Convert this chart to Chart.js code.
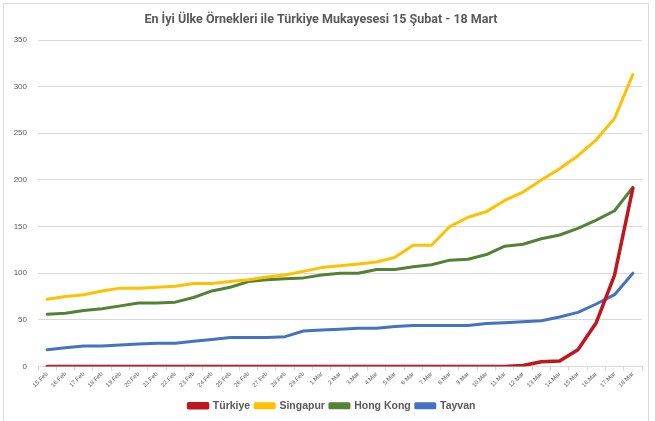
<!DOCTYPE html>
<html><head><meta charset="utf-8">
<script src="https://cdn.jsdelivr.net/npm/chart.js@4/dist/chart.umd.min.js"></script>
<style>
html,body{margin:0;padding:0;background:#fff;}
#wrap{position:relative;width:655px;height:421px;}
#frame{position:absolute;left:3px;top:3px;width:646px;height:440px;border:1px solid #d9d9d9;box-sizing:border-box;pointer-events:none;}
canvas{position:absolute;left:0;top:0;}
</style></head>
<body><div id="wrap"><canvas id="c" width="655" height="421"></canvas><div id="frame"></div></div>
<script>
const categories = ["15.Feb","16.Feb","17.Feb","18.Feb","19.Feb","20.Feb","21.Feb","22.Feb","23.Feb","24.Feb","25.Feb","26.Feb","27.Feb","28.Feb","29.Feb","1.Mar","2.Mar","3.Mar","4.Mar","5.Mar","6.Mar","7.Mar","8.Mar","9.Mar","10.Mar","11.Mar","12.Mar","13.Mar","14.Mar","15.Mar","16.Mar","17.Mar","18.Mar"];
const turkiye  = [0,0,0,0,0,0,0,0,0,0,0,0,0,0,0,0,0,0,0,0,0,0,0,0,0,0,1,5,6,18,47,98,191];
const singapur = [72,75,77,81,84,84,85,86,89,89,91,93,96,98,102,106,108,110,112,117,130,130,150,160,166,178,187,200,212,226,243,266,313];
const hongkong = [56,57,60,62,65,68,68,69,74,81,85,91,93,94,95,98,100,100,104,104,107,109,114,115,120,129,131,137,141,148,157,167,192];
const tayvan   = [18,20,22,22,23,24,25,25,27,29,31,31,31,32,38,39,40,41,41,43,44,44,44,44,46,47,48,49,53,58,67,77,100];
const yTicks = [0,50,100,150,200,250,300,350];
const seriesNames = ["Türkiye","Singapur","Hong Kong","Tayvan"];
const seriesColors = ["#C0161E","#FFC000","#548235","#4472C4"];
const seriesData = [turkiye, singapur, hongkong, tayvan];

const txt = "#595959";
const legendShift = {
  id: 'legendShift',
  afterLayout(chart) {
    const lg = chart.legend;
    if (lg) { lg.left += 11; lg.right += 11; }
  }
};
new Chart(document.getElementById('c'), {
  type: 'line',
  data: {
    labels: categories,
    datasets: seriesData.map((d,i)=>({
      label: seriesNames[i], data: d,
      borderColor: seriesColors[i], backgroundColor: seriesColors[i],
      borderWidth: i === 0 ? 3.5 : 3, pointRadius: 0, tension: 0, borderCapStyle:'round', borderJoinStyle:'round'
    }))
  },
  plugins: [legendShift],
  options: {
    responsive: false, animation: false,
    layout: {padding: {left: 0, right: 13, top: 0, bottom: 0}},
    plugins: {
      title: {display: true, text: "En İyi Ülke Örnekleri ile Türkiye Mukayesesi 15 Şubat - 18 Mart",
        color: txt, font: {family: "Roboto, 'Open Sans', sans-serif", size: 12.5, weight: 'bold'},
        padding: {top: 12, bottom: 13}},
      legend: {position: 'bottom', labels: {color: txt, boxWidth: 19, boxHeight: 4, padding: 5,
        font: {family: "'Liberation Sans','Open Sans',sans-serif", size: 10.5, weight: 'bold'}}},
      tooltip: {enabled: false}
    },
    scales: {
      x: {
        offset: true,
        grid: {offset: true, drawOnChartArea: false, drawTicks: true, tickLength: 4, color: '#d9d9d9'},
        border: {color: '#d9d9d9', width: 1},
        ticks: {autoSkip: false, maxRotation: 45, minRotation: 45, color: txt, padding: 0,
          font: {family: "'Liberation Sans',sans-serif", size: 6}},
        afterFit: s => { s.height = 29; }
      },
      y: {
        min: 0, max: 350,
        afterBuildTicks: s => { s.ticks = yTicks.map(v => ({value: v})); },
        grid: {color: '#d9d9d9', drawTicks: false, lineWidth: 1},
        border: {display: false},
        ticks: {color: txt, padding: 11, font: {family: "'Liberation Sans',sans-serif", size: 8}},
        afterFit: s => { s.width = 38; }
      }
    }
  }
});
</script></body></html>
